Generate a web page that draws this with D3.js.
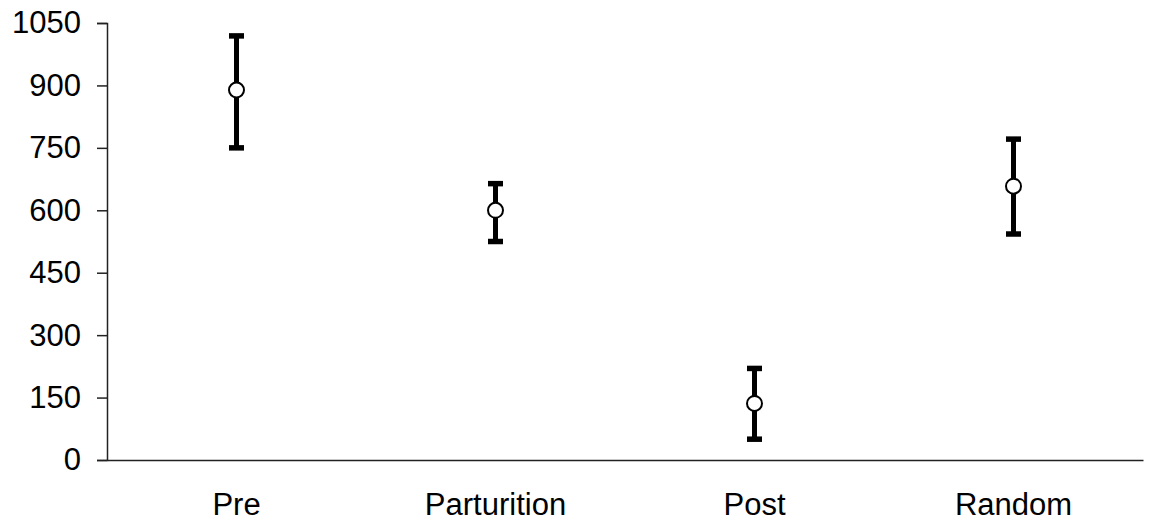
<!DOCTYPE html>
<html>
<head>
<meta charset="utf-8">
<script src="https://cdn.jsdelivr.net/npm/d3@7"></script>
<style>
  body { margin: 0; background: #fff; }
  svg { display: block; }
</style>
</head>
<body>
<div id="chart"></div>
<script>
// values
const categories = ["Pre", "Parturition", "Post", "Random"];
const means = [889, 600, 136, 658];
const upper = [1019, 664, 220, 771];
const lower = [750, 525, 50, 543];
const yTicks = [0, 150, 300, 450, 600, 750, 900, 1050];

const width = 1154, height = 529;
const margin = {top: 23, right: 11, bottom: 69, left: 107};

const svg = d3.select("#chart").append("svg")
  .attr("width", width)
  .attr("height", height);

svg.append("rect")
  .attr("width", "100%")
  .attr("height", "100%")
  .attr("fill", "white");

const x = d3.scaleBand()
  .domain(categories)
  .range([margin.left, width - margin.right]);

const y = d3.scaleLinear()
  .domain([0, 1050])
  .range([height - margin.bottom, margin.top]);

// y axis
const yAxis = svg.append("g")
  .attr("transform", `translate(${margin.left},0)`)
  .call(d3.axisLeft(y).tickValues(yTicks).tickSize(10).tickPadding(16).tickFormat(d3.format("d")));
yAxis.selectAll("text")
  .attr("font-family", "Liberation Sans, Arial, sans-serif")
  .attr("font-size", 31)
  .attr("fill", "#000");
yAxis.select(".domain").attr("stroke", "#222").attr("stroke-width", 1.5);
yAxis.selectAll(".tick line").attr("stroke", "#222").attr("stroke-width", 1.5);

// x axis
const xAxis = svg.append("g")
  .attr("transform", `translate(0,${height - margin.bottom})`)
  .call(d3.axisBottom(x).tickSize(0).tickPadding(33));
xAxis.selectAll("text")
  .attr("font-family", "Liberation Sans, Arial, sans-serif")
  .attr("font-size", 31)
  .attr("fill", "#000");
xAxis.select(".domain").attr("stroke", "#222").attr("stroke-width", 1.5);

const data = categories.map((c, i) => ({cat: c, mean: means[i], hi: upper[i], lo: lower[i]}));
const cx = d => x(d.cat) + x.bandwidth() / 2;
const capW = 15;

const bars = svg.append("g").selectAll("g")
  .data(data)
  .join("g");

bars.append("line")
  .attr("x1", cx).attr("x2", cx)
  .attr("y1", d => y(d.hi)).attr("y2", d => y(d.lo))
  .attr("stroke", "#000").attr("stroke-width", 5);

bars.append("line")
  .attr("x1", d => cx(d) - capW / 2).attr("x2", d => cx(d) + capW / 2)
  .attr("y1", d => y(d.hi)).attr("y2", d => y(d.hi))
  .attr("stroke", "#000").attr("stroke-width", 5.5);

bars.append("line")
  .attr("x1", d => cx(d) - capW / 2).attr("x2", d => cx(d) + capW / 2)
  .attr("y1", d => y(d.lo)).attr("y2", d => y(d.lo))
  .attr("stroke", "#000").attr("stroke-width", 5.5);

bars.append("circle")
  .attr("cx", cx)
  .attr("cy", d => y(d.mean))
  .attr("r", 7.5)
  .attr("fill", "white")
  .attr("stroke", "#000")
  .attr("stroke-width", 2);
</script>
</body>
</html>
